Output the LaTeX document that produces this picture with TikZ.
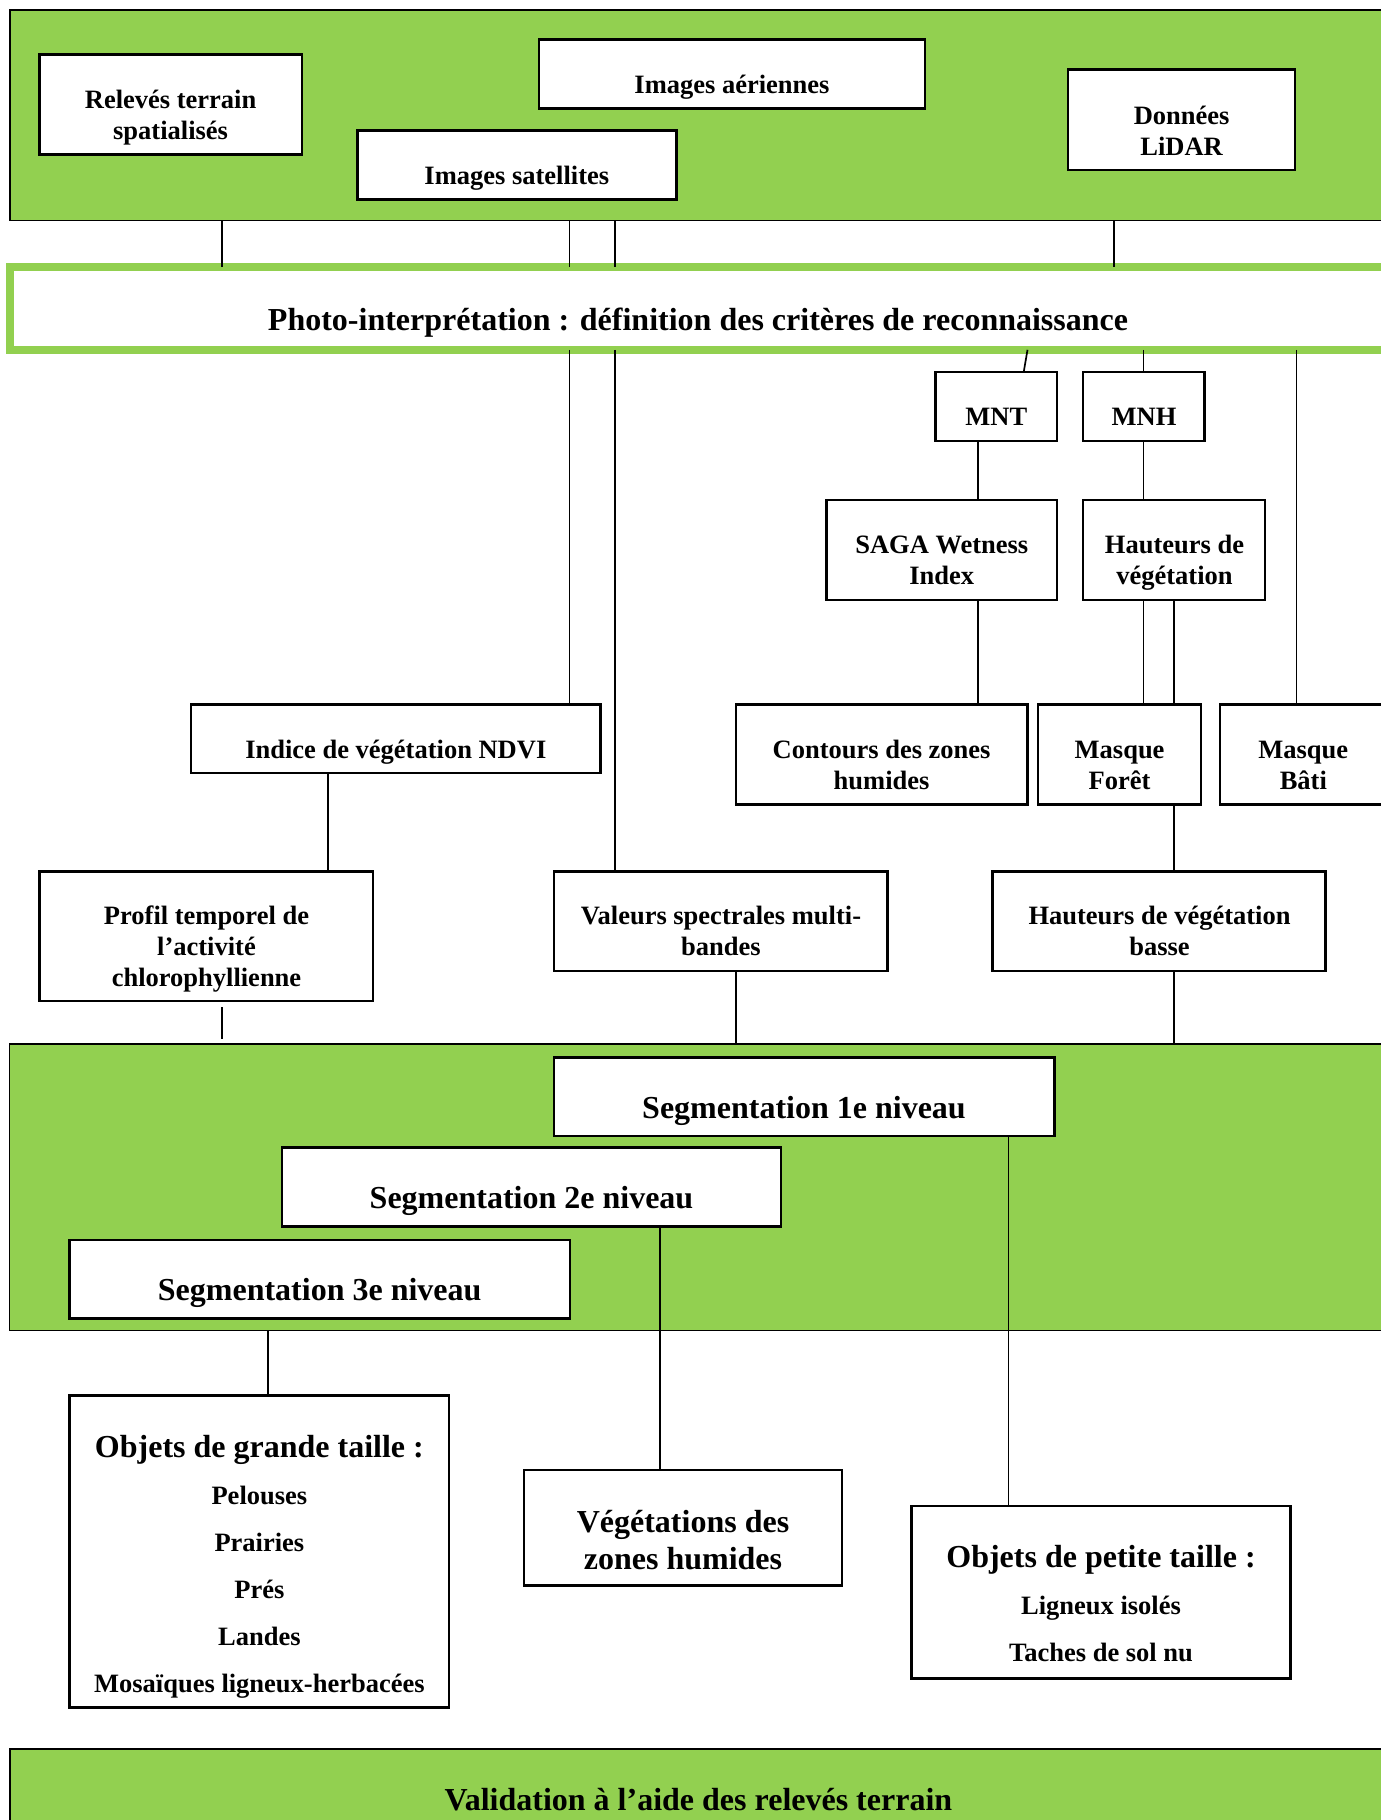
\documentclass[tikz,border=0pt]{standalone}
\usepackage{fontspec}
\setmainfont{Liberation Serif}
\usetikzlibrary{calc}
\definecolor{gr}{HTML}{92D050}
\newcommand\sst{\rule[-0.25em]{0pt}{1.05em}}
\newcommand\fsS{\fontsize{26.5}{31}\selectfont\bfseries}
\newcommand\fsL{\fontsize{32}{37}\selectfont\bfseries}
\newcommand\bx[6][boxst]{\node[#1,minimum width={(#5-#3)*1pt},minimum height={(#6-#4)*1pt}] (#2) at ({(#3+#5)/2},{(#4+#6)/2}) {};}
\newcommand\txs[4]{\node[txt,font=\fsS] (#1) at (#2,{#3-19.8}) {#4};}
\newcommand\txl[4]{\node[txt,font=\fsL] (#1) at (#2,{#3-23.6}) {#4};}
\tikzset{
  boxst/.style={rectangle,draw=black,line width=2.5pt,fill=white,inner sep=0pt,outer sep=0pt},
  contst/.style={rectangle,draw=black,line width=1.8pt,fill=gr,inner sep=0pt,outer sep=0pt},
  bandst/.style={rectangle,draw=gr,line width=7.4pt,fill=white,inner sep=0pt,outer sep=0pt},
  conn/.style={line width=1.7pt,draw=black},
  txt/.style={inner sep=0pt,outer sep=0pt,align=center,anchor=north,text=black}
}
\begin{document}
\begin{tikzpicture}[x=1pt,y=-1pt]
\useasboundingbox (0,0) rectangle (1381,1820);
\clip (0,0) rectangle (1381,1820);
\fill[white] (0,0) rectangle (1381,1820);
% containers
\bx[contst]{src}{10}{10}{1400}{220.5}
\bx[bandst]{photo}{10}{267}{1400}{349.8}
\bx[contst]{seg}{9.5}{1044}{1400}{1330.5}
\bx[contst]{valid}{10}{1749}{1400}{1840}
% boxes
\bx{rel}{39.5}{54.3}{301.8}{154.3}
\bx{sat}{357.6}{130.3}{676.3}{199.3}
\bx{aer}{538.8}{39.3}{925.1}{108.7}
\bx{lid}{1068}{69.7}{1295.2}{170}
\bx{mnt}{935.4}{372.1}{1057.2}{440.9}
\bx{mnh}{1083.1}{372.1}{1204.6}{440.9}
\bx{saga}{826.4}{499.8}{1057.2}{599.8}
\bx{haut}{1083.1}{499.8}{1264.8}{599.8}
\bx{ndvi}{191}{704.7}{600.4}{773}
\bx{cont}{735.8}{704.7}{1027.3}{804.3}
\bx{foret}{1038}{704.7}{1201}{804.3}
\bx{bati}{1220}{704.7}{1387}{804.3}
\bx{profil}{39.7}{871.3}{373.2}{1001.2}
\bx{val}{554}{871.3}{887.6}{970.8}
\bx{basse}{992.5}{871.3}{1325.5}{970.8}
\bx{seg1}{554}{1057.7}{1054.3}{1136}
\bx{seg2}{281.8}{1147.3}{781.2}{1226.3}
\bx{seg3}{69.6}{1240}{569.8}{1318.3}
\bx{grande}{69.6}{1395.7}{449.2}{1707.7}
\bx{veg}{524}{1470}{842}{1585.7}
\bx{petite}{911.6}{1506}{1290.3}{1678.3}
% texts
\txs{trel}{170.6}{107.3}{\sst Relevés terrain\\\sst spatialisés}
\txs{tsat}{516.8}{183.3}{\sst Images satellites}
\txs{taer}{732}{91.7}{\sst Images aériennes}
\txs{tlid}{1181.6}{122.7}{\sst Données\\\sst LiDAR}
\txl{tpho}{698}{328.3}{\sst Photo-interprétation : définition des critères de reconnaissance}
\txs{tmnt}{996.3}{423.9}{\sst MNT}
\txs{tmnh}{1144}{423.9}{\sst MNH}
\txs{tsaga}{941.8}{552}{\sst SAGA Wetness\\\sst Index}
\txs{thaut}{1174.5}{552}{\sst Hauteurs de\\\sst végétation}
\txs{tndvi}{395.8}{757.4}{\sst Indice de végétation NDVI}
\txs{tcont}{881.6}{757.4}{\sst Contours des zones\\\sst humides}
\txs{tfor}{1119.6}{757.4}{\sst Masque\\\sst Forêt}
\txs{tbati}{1303.3}{757.4}{\sst Masque\\\sst Bâti}
\txs{tprof}{206.5}{922.6}{\sst Profil temporel de\\\sst l’activité\\\sst chlorophyllienne}
\txs{tval}{721}{922.6}{\sst Valeurs spectrales multi-\\\sst bandes}
\txs{tbas}{1159.5}{922.6}{\sst Hauteurs de végétation\\\sst basse}
\txl{tseg1}{804}{1116.7}{\sst Segmentation 1e niveau}
\txl{tseg2}{531.5}{1206.7}{\sst Segmentation 2e niveau}
\txl{tseg3}{319.7}{1298.3}{\sst Segmentation 3e niveau}
\node[txt,font=\fontsize{26.5}{47}\selectfont\bfseries] (tgr) at (259.4,{1456-24.6}) {{\fontsize{32}{47}\selectfont\sst Objets de grande taille :}\\\sst Pelouses\\\sst Prairies\\\sst Prés\\\sst Landes\\\sst Mosaïques ligneux-herbacées};
\txl{tveg}{683}{1530}{\sst Végétations des\\\sst zones humides}
\node[txt,font=\fontsize{26.5}{47}\selectfont\bfseries] (tpe) at (1101,{1566.7-24.6}) {{\fontsize{32}{47}\selectfont\sst Objets de petite taille :}\\\sst Ligneux isolés\\\sst Taches de sol nu};
\txl{tvalid}{698.4}{1808.3}{\sst Validation à l’aide des relevés terrain}
% connector columns
\coordinate (xa) at (222,0);
\coordinate (xb) at (569.6,0);
\coordinate (xc) at (615,0);
\coordinate (xd) at (1114,0);
\coordinate (xe1) at (1027.5,0);
\coordinate (xe2) at (1023.7,0);
\coordinate (xf) at (1143.6,0);
\coordinate (xg) at (1296.5,0);
\coordinate (xh) at (978,0);
\coordinate (xl) at (1173.8,0);
\coordinate (xn) at (328,0);
\coordinate (xp) at (736,0);
\coordinate (xr) at (1008.5,0);
\coordinate (xs) at (660,0);
\coordinate (xt) at (267.7,0);
% connectors
\draw[conn] (src.south -| xa) -- (photo.north -| xa);
\draw[conn] (src.south -| xb) -- (photo.north -| xb);
\draw[conn] (src.south -| xc) -- (photo.north -| xc);
\draw[conn] (src.south -| xd) -- (photo.north -| xd);
\draw[conn] (photo.south -| xb) -- (ndvi.north -| xb);
\draw[conn] (photo.south -| xc) -- (val.north -| xc);
\draw[conn] (photo.south -| xe1) -- (mnt.north -| xe2);
\draw[conn] (photo.south -| xf) -- (mnh.north -| xf);
\draw[conn] (photo.south -| xg) -- (bati.north -| xg);
\draw[conn] (mnt.south -| xh) -- (saga.north -| xh);
\draw[conn] (mnh.south -| xf) -- (haut.north -| xf);
\draw[conn] (saga.south -| xh) -- (cont.north -| xh);
\draw[conn] (haut.south -| xf) -- (foret.north -| xf);
\draw[conn] (haut.south -| xl) -- (foret.north -| xl);
\draw[conn] (foret.south -| xl) -- (basse.north -| xl);
\draw[conn] (ndvi.south -| xn) -- (profil.north -| xn);
\draw[conn] ($(profil.south -| xa)+(0,6)$) -- ($(seg.north -| xa)+(0,-5)$);
\draw[conn] (val.south -| xp) -- (seg.north -| xp);
\draw[conn] (basse.south -| xl) -- (seg.north -| xl);
\draw[conn] (seg1.south -| xr) -- (petite.north -| xr);
\draw[conn] (seg2.south -| xs) -- (veg.north -| xs);
\draw[conn] (seg.south -| xt) -- (grande.north -| xt);
\end{tikzpicture}
\end{document}
